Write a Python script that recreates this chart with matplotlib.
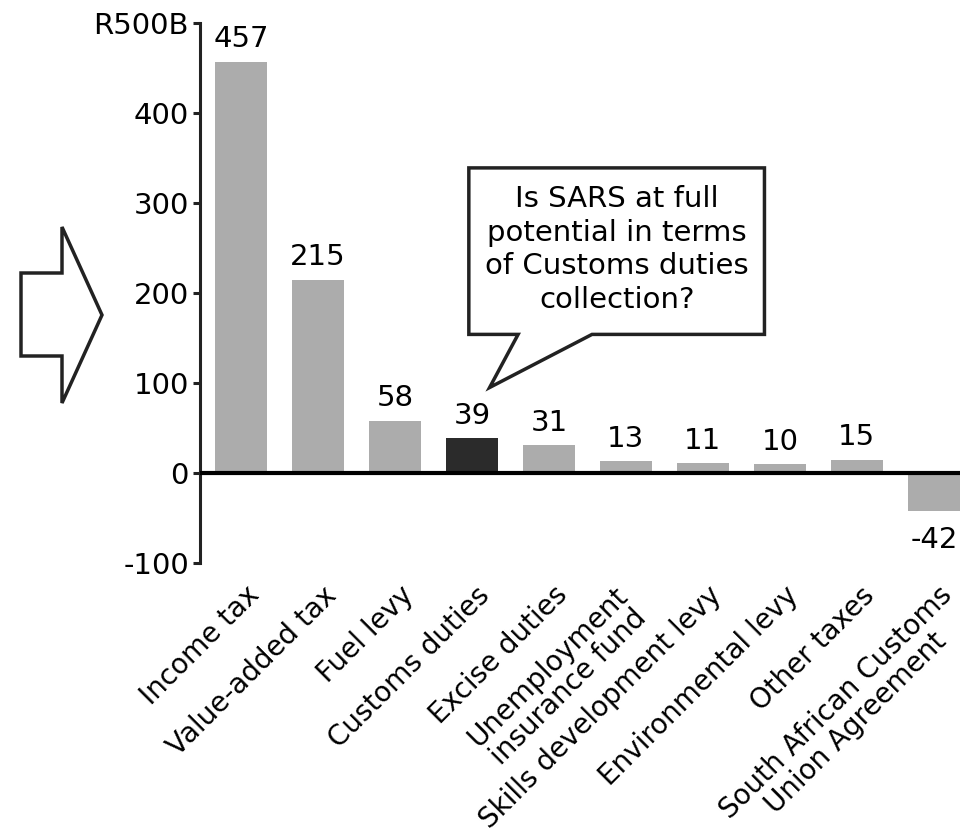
#Tax revenue by source (R billion) with a callout on customs duties
import matplotlib
matplotlib.use("Agg")
import matplotlib.pyplot as plt
import matplotlib.transforms as mtransforms
from matplotlib.patches import Polygon

#Data
categories = ["Income tax", "Value-added tax", "Fuel levy", "Customs duties",
              "Excise duties", "Unemployment\ninsurance fund",
              "Skills development levy", "Environmental levy", "Other taxes",
              "South African Customs\nUnion Agreement"]
revenue = [457, 215, 58, 39, 31, 13, 11, 10, 15, -42]
highlight = "Customs duties"
yticks = [-100, 0, 100, 200, 300, 400, 500]
ytick_labels = ["-100", "0", "100", "200", "300", "400", "R500B"]
callout = "Is SARS at full\npotential in terms\nof Customs duties\ncollection?"

light = "#acacac"
dark = "#2b2b2b"
fs = 21

W, H = 969, 836
fig = plt.figure(figsize=(W / 100, H / 100), dpi=100)
ax = fig.add_axes([200 / W, 1 - 563 / H, 760 / W, 540 / H])

x = list(range(len(categories)))
colors = [dark if c == highlight else light for c in categories]
bars = ax.bar(x, revenue, width=0.675, color=colors, zorder=2)

#Value labels above / below each bar
for b, v in zip(bars, revenue):
    xc = b.get_x() + b.get_width() / 2
    if v >= 0:
        ax.annotate(str(v), (xc, v), xytext=(0, 6), textcoords="offset points",
                    ha="center", va="bottom", fontsize=fs)
    else:
        ax.annotate(str(v), (xc, v), xytext=(0, -11), textcoords="offset points",
                    ha="center", va="top", fontsize=fs)

ax.axhline(0, color="black", lw=3, zorder=3)
ax.set_xlim(-0.532, 9.34)
ax.set_ylim(-100, 500)

#Axis styling
for s in ["top", "right", "bottom"]:
    ax.spines[s].set_visible(False)
ax.spines["left"].set_linewidth(2.2)
ax.spines["left"].set_color("#222222")
ax.set_yticks(yticks)
ax.set_yticklabels(ytick_labels, fontsize=fs)
ax.tick_params(axis="y", length=5, width=2.2, pad=3, color="#222222")

ax.set_xticks(x)
ax.set_xticklabels(categories, rotation=45, ha="right", va="top",
                   rotation_mode="anchor", multialignment="center",
                   linespacing=1.05, fontsize=20)
ax.tick_params(axis="x", length=0, pad=13)
for lbl in ax.get_xticklabels():
    # nudge labels right; the two-line unemployment label sits a bit further left
    dx = -12 if lbl.get_text().startswith("Unemployment") else 4
    shift = mtransforms.ScaledTranslation(dx / 100, 0, fig.dpi_scale_trans)
    lbl.set_transform(lbl.get_transform() + shift)

#Speech bubble pointing at customs duties
bubble = [(2.96, 339), (6.80, 339), (6.80, 154), (4.56, 154),
          (3.23, 95), (3.60, 154), (2.96, 154)]
ax.add_patch(Polygon(bubble, closed=True, facecolor="white", edgecolor="#222222",
                     lw=2.5, clip_on=False, zorder=4, joinstyle="miter"))
ax.text((2.96 + 6.80) / 2, (339 + 154) / 2 + 2, callout, ha="center", va="center",
        fontsize=fs, linespacing=1.25, zorder=5)

#Block arrow on the left
arrow_px = [(21, 273), (62, 273), (62, 227), (102, 315), (62, 403), (62, 356), (21, 356)]
arrow = Polygon([(px / W, 1 - py / H) for px, py in arrow_px], closed=True,
                facecolor="white", edgecolor="#222222", lw=2.5,
                transform=fig.transFigure, joinstyle="miter")
fig.add_artist(arrow)

fig.savefig("out.png", dpi=100)
